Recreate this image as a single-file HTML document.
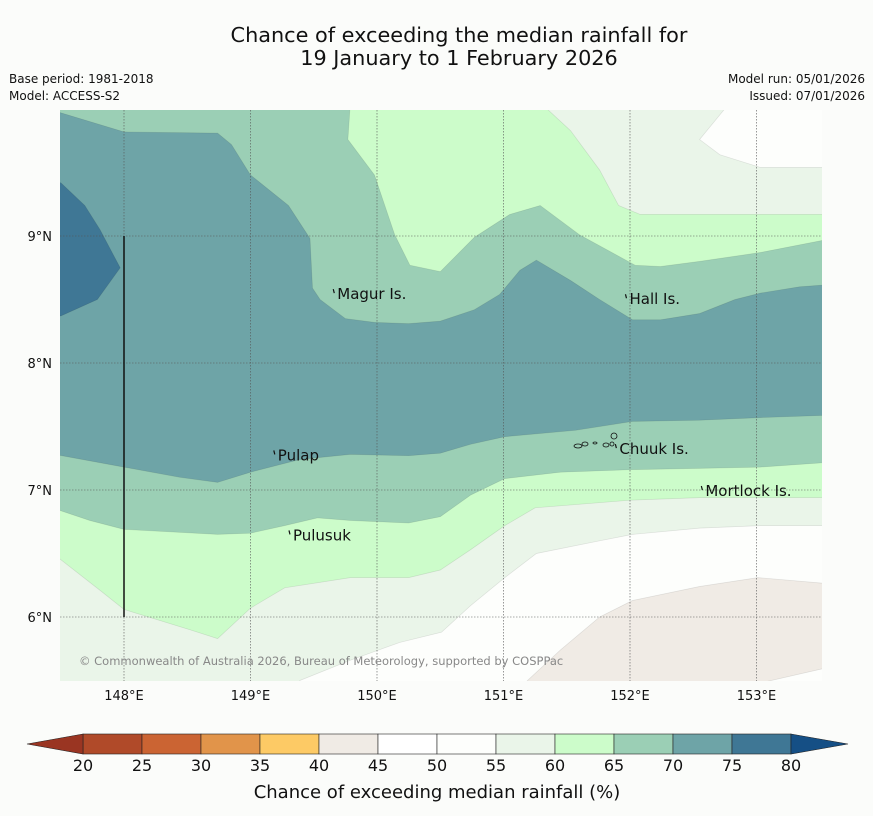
<!DOCTYPE html>
<html><head><meta charset="utf-8"><style>
body{margin:0;background:#fbfcfa;width:873px;height:816px;overflow:hidden;font-family:"DejaVu Sans","Liberation Sans",sans-serif}
svg{position:absolute;left:0;top:0}
</style></head><body>
<svg id="s" width="873" height="816" xmlns="http://www.w3.org/2000/svg">
<defs><clipPath id="mc"><rect x="60" y="110" width="762" height="571"/></clipPath></defs>
<text x="459" y="42" font-size="20.8" text-anchor="middle" fill="#111">Chance of exceeding the median rainfall for</text>
<text x="459" y="65" font-size="20.8" text-anchor="middle" fill="#111">19 January to 1 February 2026</text>
<text x="9" y="83" font-size="12" fill="#111">Base period: 1981-2018</text>
<text x="9" y="100" font-size="12" fill="#111">Model: ACCESS-S2</text>
<text x="865" y="83" font-size="12" text-anchor="end" fill="#111">Model run: 05/01/2026</text>
<text x="865" y="100" font-size="12" text-anchor="end" fill="#111">Issued: 07/01/2026</text>
<g id="map" clip-path="url(#mc)"></g>
<g id="over"></g>
<g id="cb"></g>
<text x="437" y="798" font-size="18" text-anchor="middle" fill="#111">Chance of exceeding median rainfall (%)</text>
</svg>
<script>
const lonTicks=[148,149,150,151,152,153];
const latTicks=[6,7,8,9];
const levels=[20,25,30,35,40,45,50,55,60,65,70,75,80];
const levelColors=["#b04a29","#cb6433","#e1944a","#fdca65","#f0ebe5","#ffffff","#fdfefc","#eaf5e9","#ccfcca","#9bcfb5","#6ea4a7","#3f7795"];
const bandLight=[[147.4,10.05],[153.6,10.05],[153.6,5.4],[147.4,5.4]];
const band60=[[147.4,10.05],[151.29,10.05],[151.53,9.83],[151.76,9.52],[151.91,9.24],[152.08,9.17],[152.55,9.17],[153.6,9.17],[153.6,6.94],[153.03,6.94],[152.55,6.94],[152.0,6.92],[151.25,6.86],[151.01,6.72],[150.74,6.53],[150.5,6.37],[150.25,6.31],[149.79,6.31],[149.27,6.23],[149.0,6.07],[148.74,5.83],[148.52,5.9],[148.0,6.06],[147.81,6.21],[147.4,6.53]];
const band65=[[147.4,10.05],[149.79,10.05],[149.77,9.76],[149.98,9.48],[150.14,9.01],[150.26,8.77],[150.5,8.72],[150.77,8.99],[151.05,9.17],[151.29,9.24],[151.6,9.01],[152.04,8.77],[152.24,8.76],[152.55,8.8],[153.03,8.87],[153.6,8.98],[153.6,7.22],[153.03,7.18],[152.55,7.17],[152.0,7.16],[151.45,7.14],[151.01,7.09],[150.74,6.96],[150.5,6.79],[150.25,6.74],[149.79,6.76],[149.53,6.78],[149.27,6.72],[149.0,6.66],[148.74,6.65],[148.0,6.69],[147.73,6.76],[147.4,6.87]];
const band70=[[147.4,9.99],[147.5,9.97],[148.0,9.82],[148.74,9.81],[148.85,9.72],[149.0,9.48],[149.3,9.24],[149.47,8.98],[149.49,8.59],[149.55,8.5],[149.75,8.35],[149.98,8.32],[150.25,8.31],[150.5,8.33],[150.77,8.42],[150.97,8.54],[151.13,8.73],[151.26,8.81],[151.53,8.65],[151.76,8.5],[152.02,8.34],[152.24,8.34],[152.55,8.39],[152.83,8.5],[153.03,8.55],[153.34,8.6],[153.6,8.62],[153.6,7.59],[153.03,7.57],[152.55,7.55],[152.02,7.54],[151.57,7.47],[151.01,7.42],[150.74,7.36],[150.5,7.29],[150.25,7.27],[149.79,7.28],[149.39,7.24],[149.0,7.14],[148.74,7.06],[148.44,7.1],[148.0,7.18],[147.4,7.29]];
const band75=[[147.4,9.42],[147.5,9.42],[147.69,9.24],[147.81,9.05],[147.97,8.75],[147.79,8.5],[147.5,8.37],[147.4,8.37]];
const whiteTop=[[152.55,9.76],[152.79,10.05],[153.6,10.05],[153.6,9.54],[153.03,9.54],[152.71,9.64]];
const whiteBottom=[[149.39,5.4],[149.39,5.5],[149.79,5.66],[150.18,5.8],[150.51,5.88],[150.74,6.09],[151.01,6.31],[151.26,6.5],[151.76,6.6],[152.02,6.65],[152.55,6.7],[153.03,6.72],[153.6,6.72],[153.6,5.4]];
const beige=[[151.1,5.4],[151.19,5.5],[151.45,5.74],[151.76,6.0],[152.02,6.13],[152.55,6.24],[153.01,6.31],[153.6,6.26],[153.6,5.61],[153.03,5.48],[153.0,5.4]];
const places=["Magur Is.","Hall Is.","Pulap","Chuuk Is.","Mortlock Is.","Pulusuk"];
const placeLon=[149.67,151.98,149.2,151.9,152.58,149.32];
const placeLat=[8.55,8.51,7.28,7.33,7.0,6.65];
const NS="http://www.w3.org/2000/svg";
const X=lon=>124+(lon-148)*126.5;
const Y=lat=>236+(9-lat)*127;
function mk(t,a,p){const e=document.createElementNS(NS,t);for(const k in a)e.setAttribute(k,a[k]);p.appendChild(e);return e;}
const map=document.getElementById('map'),over=document.getElementById('over'),cb=document.getElementById('cb');
function poly(pts,fill,name){const e=mk('path',{d:'M'+pts.map(p=>X(p[0]).toFixed(1)+','+Y(p[1]).toFixed(1)).join('L')+'Z',fill:fill,stroke:'rgba(0,0,0,0.10)','stroke-width':0.7},map);

}
poly(bandLight,levelColors[7],'band-55-60');
poly(whiteTop,levelColors[6],'band-50-55-north');
poly(whiteBottom,levelColors[6],'band-50-55-south');
poly(beige,levelColors[4],'band-40-45');
poly(band60,levelColors[8],'band-60-65');
poly(band65,levelColors[9],'band-65-70');
poly(band70,levelColors[10],'band-70-75');
poly(band75,levelColors[11],'band-75-80');
lonTicks.forEach(l=>{const g=mk('line',{x1:X(l),x2:X(l),y1:110,y2:681,stroke:'#555','stroke-width':0.6,'stroke-dasharray':'1.5,1.5'},map);


const t=mk('text',{x:X(l),y:700,'font-size':13,'text-anchor':'middle',fill:'#111'},over);t.textContent=l+'°E';

});
latTicks.forEach(l=>{const g=mk('line',{x1:60,x2:822,y1:Y(l),y2:Y(l),stroke:'#555','stroke-width':0.6,'stroke-dasharray':'1.5,1.5'},map);


const t=mk('text',{x:52,y:Y(l)+5,'font-size':13,'text-anchor':'end',fill:'#111'},over);t.textContent=l+'°N';

});
const vl=mk('line',{x1:X(148),x2:X(148),y1:Y(9),y2:Y(6),stroke:'#111','stroke-width':1.5},map);


places.forEach((p,i)=>{const x=X(placeLon[i]),y=Y(placeLat[i]);
const m=mk('path',{d:`M${x-2},${y-4}l1,4`,stroke:'#111','stroke-width':1.2,fill:'none'},over);


const t=mk('text',{x:x+2,y:y+6,'font-size':15,fill:'#111'},over);t.textContent=p;

});
[[578,446,4,2],[585,444,3,2],[595,443,2,1],[606,445,3,2],[614,436,3,3],[612,444,2,2]].forEach(c=>{const e=mk('ellipse',{cx:c[0],cy:c[1],rx:c[2],ry:c[3],fill:'none',stroke:'#111','stroke-width':0.8},over);

});
const cr=mk('text',{x:79,y:665,'font-size':11.5,fill:'#888'},over);cr.textContent='© Commonwealth of Australia 2026, Bureau of Meteorology, supported by COSPPac';


const cbX=v=>83+(v-20)*(708/60);
for(let i=0;i<levelColors.length;i++){const r=mk('rect',{x:cbX(levels[i]),y:734,width:cbX(levels[i+1])-cbX(levels[i]),height:20,fill:levelColors[i],stroke:'#222','stroke-width':0.6},cb);

}
const tl=mk('path',{d:`M${cbX(20)},734L27,744L${cbX(20)},754Z`,fill:'#9a3522',stroke:'#222','stroke-width':0.6},cb);


const tr=mk('path',{d:`M${cbX(80)},734L848,744L${cbX(80)},754Z`,fill:'#154f85',stroke:'#222','stroke-width':0.6},cb);


levels.forEach(v=>{const t=mk('text',{x:cbX(v),y:771,'font-size':16,'text-anchor':'middle',fill:'#111'},cb);t.textContent=v;

});
</script>
</body></html>
